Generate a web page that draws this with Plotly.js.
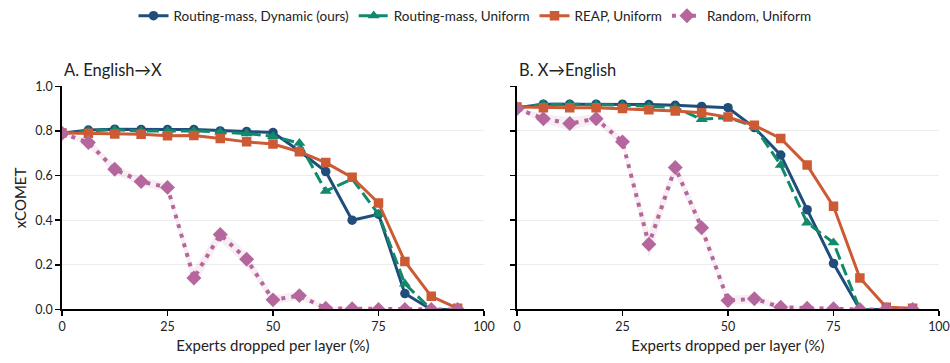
<!DOCTYPE html>
<html>
<head>
<meta charset="utf-8">
<script src="https://cdn.plot.ly/plotly-3.0.1.min.js"></script>
<style>
  html, body { margin: 0; padding: 0; background: #fff; }
  #chart { width: 950px; height: 363px; }
</style>
</head>
<body>
<div id="chart"></div>
<script>
// Share of experts dropped per layer (%)
const dropped = [0, 6.25, 12.5, 18.75, 25, 31.25, 37.5, 43.75, 50, 56.25, 62.5, 68.75, 75, 81.25, 87.5, 93.75];

// A. English -> X (xCOMET)
const enxDynamic = [0.790, 0.804, 0.808, 0.806, 0.806, 0.806, 0.800, 0.797, 0.793, 0.710, 0.618, 0.400, 0.427, 0.071, 0.000, 0.000];
const enxUniform = [0.790, 0.800, 0.805, 0.800, 0.800, 0.800, 0.795, 0.788, 0.776, 0.745, 0.530, 0.585, 0.427, 0.115, 0.000, 0.000];
const enxReap    = [0.791, 0.790, 0.786, 0.785, 0.778, 0.780, 0.766, 0.751, 0.741, 0.707, 0.658, 0.592, 0.477, 0.215, 0.059, 0.005];
const enxRandom  = [0.790, 0.748, 0.628, 0.573, 0.547, 0.141, 0.336, 0.225, 0.043, 0.062, 0.005, 0.003, 0.000, 0.000, 0.000, 0.000];
const enxRandomErr = [0.005, 0.020, 0.020, 0.020, 0.020, 0.040, 0.030, 0.030, 0.020, 0.020, 0.010, 0.005, 0.005, 0.000, 0.000, 0.000];

// B. X -> English (xCOMET)
const xenDynamic = [0.904, 0.920, 0.920, 0.920, 0.920, 0.918, 0.915, 0.910, 0.904, 0.815, 0.692, 0.447, 0.206, 0.000, 0.000, 0.000];
const xenUniform = [0.904, 0.920, 0.920, 0.918, 0.915, 0.910, 0.905, 0.852, 0.860, 0.820, 0.647, 0.388, 0.299, 0.000, 0.000, 0.000];
const xenReap    = [0.907, 0.904, 0.904, 0.904, 0.900, 0.895, 0.889, 0.881, 0.862, 0.825, 0.766, 0.647, 0.462, 0.141, 0.010, 0.005];
const xenRandom  = [0.900, 0.855, 0.833, 0.855, 0.751, 0.292, 0.636, 0.366, 0.040, 0.048, 0.010, 0.005, 0.003, 0.000, 0.000, 0.000];
const xenRandomErr = [0.005, 0.020, 0.030, 0.020, 0.020, 0.060, 0.030, 0.030, 0.020, 0.020, 0.010, 0.005, 0.005, 0.000, 0.000, 0.000];

const seriesNames = ["Routing-mass, Dynamic (ours)", "Routing-mass, Uniform", "REAP, Uniform", "Random, Uniform"];
const xTicks = [0, 25, 50, 75, 100];
const yTicks = [0, 0.2, 0.4, 0.6, 0.8, 1.0];

const FONT = "Lato, 'DejaVu Sans', sans-serif";
const C_BLUE = "#1f4e7a", C_GREEN = "#11896a", C_ORANGE = "#cc5a35", C_PURPLE = "#b5679d";

const styles = [
  { color: C_BLUE,   dash: "solid",     width: 3,   symbol: "circle",        size: 9.5 },
  { color: C_GREEN,  dash: "12px,5px",  width: 3,   symbol: "triangle-up",   size: 10.5 },
  { color: C_ORANGE, dash: "solid",     width: 3,   symbol: "square",        size: 9.5 },
  { color: C_PURPLE, dash: "4px,6px",   width: 4,   symbol: "diamond",       size: 11.5 }
];

function band(ys, err, xa, ya) {
  const up = ys.map((v, i) => Math.min(1, v + err[i]));
  const lo = ys.map((v, i) => Math.max(0, v - err[i]));
  return {
    x: dropped.concat(dropped.slice().reverse()),
    y: up.concat(lo.slice().reverse()),
    xaxis: xa, yaxis: ya,
    type: "scatter", mode: "lines", fill: "toself",
    fillcolor: "rgba(181,103,157,0.11)",
    line: { width: 0, color: "rgba(0,0,0,0)" },
    hoverinfo: "skip", showlegend: false
  };
}

function panel(seriesList, xa, ya, legend) {
  return seriesList.map((ys, k) => ({
    x: dropped, y: ys, xaxis: xa, yaxis: ya,
    type: "scatter", mode: "lines+markers",
    name: seriesNames[k], legendgroup: "g" + k, showlegend: legend,
    line: { color: styles[k].color, width: styles[k].width, dash: styles[k].dash },
    marker: { color: styles[k].color, symbol: styles[k].symbol, size: styles[k].size }
  }));
}

const traces = [
  band(enxRandom, enxRandomErr, "x", "y"),
  band(xenRandom, xenRandomErr, "x2", "y2"),
  ...panel([enxDynamic, enxUniform, enxReap, enxRandom], "x", "y", true),
  ...panel([xenDynamic, xenUniform, xenReap, xenRandom], "x2", "y2", false)
];

const W = 950, H = 363;
const yDom = [1 - 309 / H, 1 - 84 / H];

function xAxis(domain, anchor) {
  return {
    domain: domain, anchor: anchor, range: [0, 100],
    tickvals: xTicks, ticktext: xTicks.map(String),
    ticks: "outside", ticklen: 5, tickwidth: 1.5, tickcolor: "#000",
    showline: true, linecolor: "#000", linewidth: 1.8,
    showgrid: false, zeroline: false,
    tickfont: { family: FONT, size: 12.5, color: "#222" },
    title: { text: "Experts dropped per layer (%)", font: { family: FONT, size: 15, color: "#222" }, standoff: 7 }
  };
}
function yAxis(anchor, labels, title) {
  return {
    domain: yDom, anchor: anchor, range: [0, 1],
    tickvals: yTicks, ticktext: yTicks.map(v => v.toFixed(1)), showticklabels: labels,
    ticks: "outside", ticklen: 5, tickwidth: 1.5, tickcolor: "#000",
    showline: true, linecolor: "#000", linewidth: 1.8,
    showgrid: true, gridcolor: "#ececec", gridwidth: 1, zeroline: false,
    tickfont: { family: FONT, size: 12.5, color: "#222" },
    title: title ? { text: "xCOMET", font: { family: FONT, size: 15, color: "#222" }, standoff: 5 } : { text: "" }
  };
}

const layout = {
  width: W, height: H,
  margin: { l: 0, r: 0, t: 0, b: 0 },
  paper_bgcolor: "#fff", plot_bgcolor: "#fff",
  font: { family: FONT, color: "#222" },
  xaxis: xAxis([62 / W, 484 / W], "y"),
  yaxis: yAxis("x", true, true),
  xaxis2: xAxis([517 / W, 939 / W], "y2"),
  yaxis2: yAxis("x2", false, false),
  legend: {
    orientation: "h", x: 0.5, xanchor: "center", y: 1 - 13 / H, yanchor: "middle",
    font: { family: FONT, size: 13.5, color: "#222" },
    itemwidth: 30, tracegroupgap: 0
  },
  annotations: [
    { text: "A. English\u2192X", xref: "paper", yref: "paper", x: 62 / W, y: 1 - 68 / H,
      xanchor: "left", yanchor: "middle", showarrow: false, font: { family: FONT, size: 16.5, color: "#222" } },
    { text: "B. X\u2192English", xref: "paper", yref: "paper", x: 517 / W, y: 1 - 68 / H,
      xanchor: "left", yanchor: "middle", showarrow: false, font: { family: FONT, size: 16.5, color: "#222" } }
  ],
  showlegend: true
};

Plotly.newPlot("chart", traces, layout, { staticPlot: true, displayModeBar: false });
</script>
</body>
</html>
